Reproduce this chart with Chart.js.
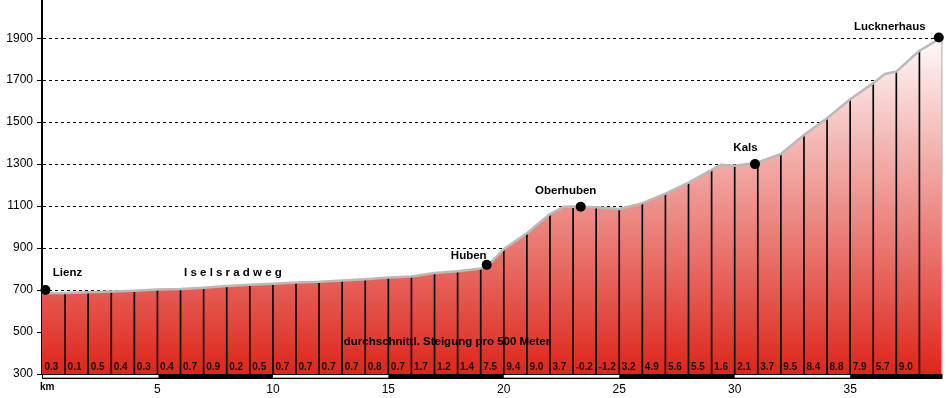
<!DOCTYPE html>
<html>
<head>
<meta charset="utf-8">
<title>Höhenprofil Lienz - Lucknerhaus</title>
<script src="https://cdn.jsdelivr.net/npm/chart.js@4.4.0/dist/chart.umd.min.js"></script>
<style>
  html, body { margin: 0; padding: 0; background: #fff; }
</style>
</head>
<body>
<canvas id="myChart" width="946" height="398"></canvas>
<script>
'use strict'
// Streckenprofil (km / Meter)
let km = [0, 1, 2, 3, 4, 5, 6, 7, 8, 9, 10, 11, 12, 13, 14, 15, 16, 17, 18, 19, 19.3,
  20, 21, 22, 22.6, 23, 24, 25, 26, 27, 28, 29, 29.4, 30, 31, 32, 33, 34, 35, 36, 36.5, 37, 38, 39];
let hoehe = [685, 686, 690, 693, 697, 703, 705, 711, 719, 725, 730, 736, 739, 746, 751, 760, 765, 781, 790, 803, 815,
  895, 971, 1062, 1097, 1098, 1095, 1086, 1114, 1159, 1212, 1273, 1297, 1292, 1308, 1348, 1439, 1519, 1609, 1686, 1729, 1741, 1840, 1905];

let kmTicks = [0, 5, 10, 15, 20, 25, 30, 35];
let hoeheTicks = [300, 500, 700, 900, 1100, 1300, 1500, 1700, 1900];

// durchschnittl. Steigung je Abschnitt
let steigung = ['0.3', '0.1', '0.5', '0.4', '0.3', '0.4', '0.7', '0.9', '0.2', '0.5', '0.7', '0.7', '0.7', '0.7', '0.8',
  '0.7', '1.7', '1.2', '1.4', '7.5', '9.4', '9.0', '3.7', '-0.2', '-1.2', '3.2', '4.9', '5.6', '5.5', '1.6', '2.1',
  '3.7', '9.5', '8.4', '8.8', '7.9', '5.7', '9.0', ''];

let orte = ['Lienz', 'Huben', 'Oberhuben', 'Kals', 'Lucknerhaus'];
let orteKm = [0.15, 19.26, 23.33, 30.88, 38.84];
let orteHoehe = [700, 820, 1097, 1300, 1903];

let texte = ['I s e l s r a d w e g', 'durchschnittl. Steigung pro 500 Meter'];
let texteKm = [8.27, 17.54];
let texteHoehe = [781, 452];

let einheit = 'km';

let kmMin = 0;
let kmMax = 39;
let hoeheMin = 300;
let hoeheMax = 2082;

// label offsets (px) relative to the marker
let orteVersatz = [[22, -17], [-18, -9.5], [-15, -15.5], [-9.5, -16], [-49, -11]];

Chart.defaults.font.family = '"Liberation Sans", Arial, sans-serif';
Chart.defaults.color = '#000';

let profil = [];
for (let i = 0; i < km.length; i++) {
    profil.push({x: km[i], y: hoehe[i]});
}
let kante = profil.concat([{x: km[km.length - 1], y: hoeheMin}]);

let striche = profil.filter(p => Number.isInteger(p.x) && p.x > kmMin && p.x < kmMax);

let punkte = [];
for (let i = 0; i < orte.length; i++) {
    punkte.push({x: orteKm[i], y: orteHoehe[i]});
}

function verlauf(context) {
    let chart = context.chart;
    let area = chart.chartArea;
    if (!area) {
        return 'rgb(221,36,26)';
    }
    let g = chart.ctx.createLinearGradient(0, area.bottom, 0, area.top);
    g.addColorStop(0, 'rgb(221,38,27)');
    g.addColorStop(0.92, 'rgb(255,255,255)');
    g.addColorStop(1, 'rgb(255,255,255)');
    return g;
}

let beschriftung = {
    id: 'beschriftung',
    afterDraw(chart) {
        let c = chart.ctx;
        let xs = chart.scales.x;
        let ys = chart.scales.y;
        let unten = ys.bottom;
        c.save();

        // km band
        c.fillStyle = '#000';
        c.fillRect(xs.left, unten, xs.right - xs.left, 5);
        c.fillStyle = '#fff';
        for (let i = 0; i < kmTicks.length; i += 2) {
            let a = xs.getPixelForValue(kmTicks[i]);
            let b = xs.getPixelForValue(Math.min(kmTicks[i] + 5, kmMax));
            c.fillRect(a + (i === 0 ? 1 : 0), unten + 1, b - a, 2.7);
        }

        // einheit
        c.fillStyle = '#000';
        c.font = 'bold 10px "Liberation Sans", Arial, sans-serif';
        c.textAlign = 'left';
        c.textBaseline = 'middle';
        c.fillText(einheit, xs.left - 2, unten + 13);

        // Steigung
        c.fillStyle = '#111';
        c.font = 'bold 10px "Liberation Sans", Arial, sans-serif';
        for (let i = 0; i < steigung.length; i++) {
            c.fillText(steigung[i], xs.getPixelForValue(kmMin + i) + 2.5, unten - 7);
        }

        // Orte
        c.fillStyle = '#000';
        c.font = 'bold 11.5px "Liberation Sans", Arial, sans-serif';
        c.textAlign = 'center';
        for (let i = 0; i < orte.length; i++) {
            let x = xs.getPixelForValue(orteKm[i]) + orteVersatz[i][0];
            let y = ys.getPixelForValue(orteHoehe[i]) + orteVersatz[i][1];
            c.fillText(orte[i], x, y);
        }
        for (let i = 0; i < texte.length; i++) {
            c.fillText(texte[i], xs.getPixelForValue(texteKm[i]), ys.getPixelForValue(texteHoehe[i]));
        }
        c.restore();
    }
};

let ctx = document.getElementById('myChart').getContext('2d');
let myChart = new Chart(ctx, {
    type: 'line',
    data: {
        datasets: [{
            data: punkte,
            showLine: false,
            pointRadius: 5,
            pointHoverRadius: 5,
            pointBackgroundColor: '#000',
            pointBorderWidth: 0,
            clip: false,
            order: 0
        }, {
            data: kante,
            borderColor: 'rgb(186,186,186)',
            borderWidth: 2.5,
            borderJoinStyle: 'round',
            pointRadius: 0,
            fill: false,
            tension: 0,
            order: 1
        }, {
            type: 'bar',
            data: striche,
            backgroundColor: '#000',
            barThickness: 1,
            grouped: false,
            order: 2
        }, {
            data: profil,
            borderColor: 'rgba(0,0,0,0)',
            borderWidth: 0,
            pointRadius: 0,
            fill: 'start',
            backgroundColor: verlauf,
            tension: 0,
            order: 3
        }]
    },
    options: {
        responsive: false,
        animation: false,
        devicePixelRatio: 1,
        layout: {autoPadding: false, padding: {left: 0, right: 3.5, top: 0, bottom: 0}},
        plugins: {
            legend: {display: false},
            tooltip: {enabled: false}
        },
        scales: {
            x: {
                type: 'linear',
                min: kmMin,
                max: kmMax,
                offset: false,
                grid: {display: false, offset: false, drawTicks: false},
                border: {display: false},
                afterBuildTicks: function(scale) {
                    scale.ticks = kmTicks.map(v => ({value: v}));
                },
                afterFit: function(scale) {
                    scale.height = 24;
                    scale.paddingLeft = 0;
                    scale.paddingRight = 0;
                },
                ticks: {
                    padding: 8,
                    maxRotation: 0,
                    autoSkip: false,
                    color: '#000',
                    font: {size: 12},
                    callback: function(value) {
                        return value === kmMin ? '' : String(value);
                    }
                }
            },
            y: {
                type: 'linear',
                min: hoeheMin,
                max: hoeheMax,
                z: 1,
                grid: {
                    color: function(context) {
                        return context.tick && context.tick.value === hoeheMin ? 'rgba(0,0,0,0)' : '#000';
                    },
                    lineWidth: 1,
                    tickLength: 5,
                    tickColor: '#000',
                    tickBorderDash: []
                },
                border: {display: true, color: '#000', width: 2, dash: [3, 3]},
                afterBuildTicks: function(scale) {
                    scale.ticks = hoeheTicks.map(v => ({value: v}));
                },
                afterFit: function(scale) {
                    scale.width = 42;
                    scale.paddingTop = 0;
                    scale.paddingBottom = 0;
                },
                ticks: {
                    padding: 4,
                    color: '#000',
                    font: {size: 12},
                    callback: function(value) {
                        return String(value);
                    }
                }
            }
        }
    },
    plugins: [beschriftung]
});
</script>
</body>
</html>
